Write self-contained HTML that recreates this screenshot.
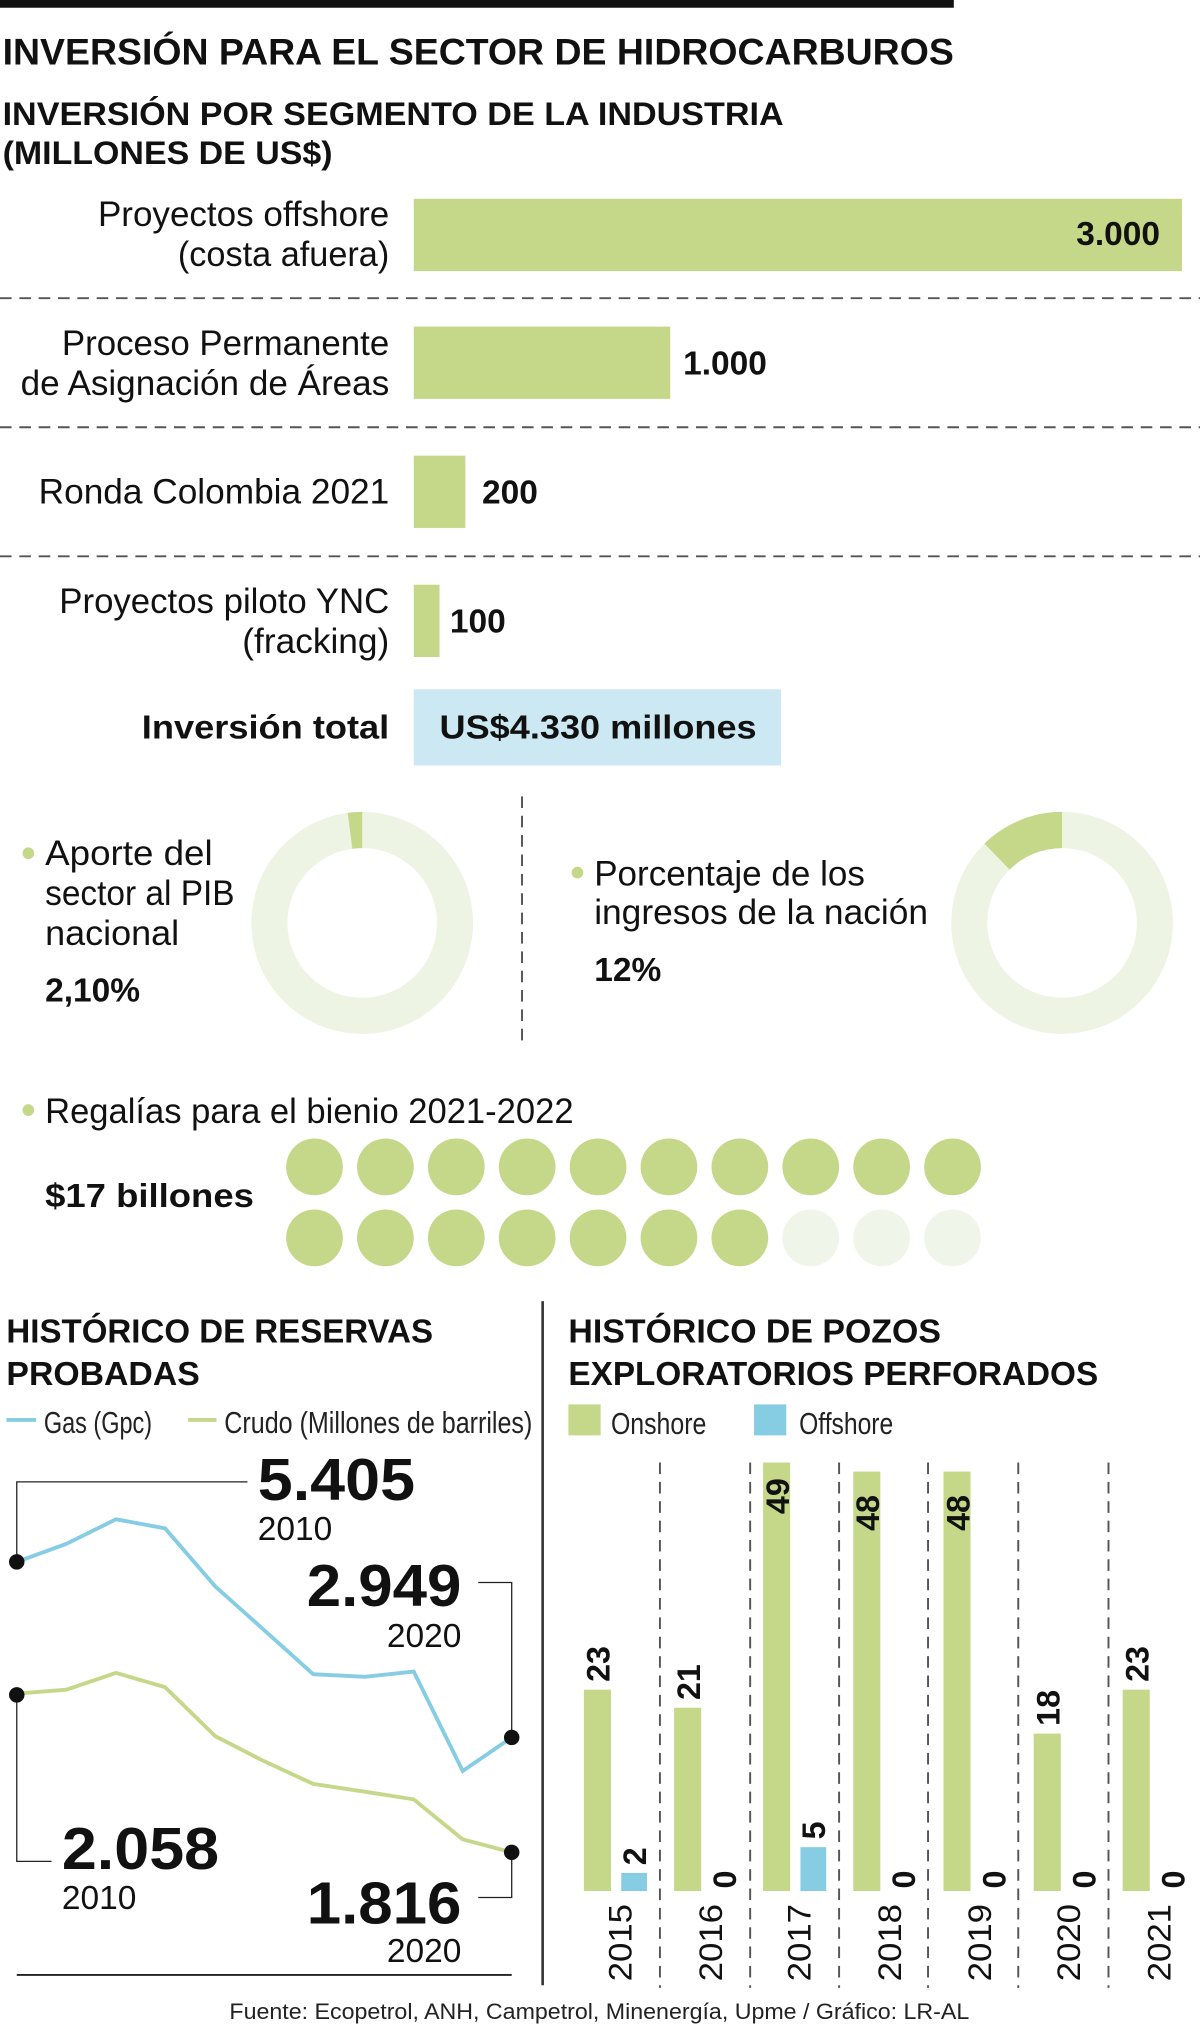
<!DOCTYPE html>
<html><head><meta charset="utf-8"><style>
html,body{margin:0;padding:0;background:#fff;}
svg{display:block;}
text{font-family:"Liberation Sans",sans-serif;fill:#111;}
.b{font-weight:bold;}
.l{fill:#222;}
</style></head><body>
<svg width="1200" height="2024" viewBox="0 0 931 1568" preserveAspectRatio="none" xmlns="http://www.w3.org/2000/svg">
<rect x="0" y="0" width="740" height="6" fill="#111"/>
<text class="b" x="2" y="50" font-size="29" textLength="738" lengthAdjust="spacingAndGlyphs">INVERSIÓN PARA EL SECTOR DE HIDROCARBUROS</text>
<text class="b" x="2" y="97" font-size="25" textLength="606" lengthAdjust="spacingAndGlyphs">INVERSIÓN POR SEGMENTO DE LA INDUSTRIA</text>
<text class="b" x="2" y="127" font-size="25" textLength="256" lengthAdjust="spacingAndGlyphs">(MILLONES DE US$)</text>

<g font-size="27" text-anchor="end" class="l">
<text x="302" y="175" textLength="226" lengthAdjust="spacingAndGlyphs">Proyectos offshore</text>
<text x="302" y="206" textLength="164" lengthAdjust="spacingAndGlyphs">(costa afuera)</text>
<text x="302" y="275" textLength="254" lengthAdjust="spacingAndGlyphs">Proceso Permanente</text>
<text x="302" y="306" textLength="286" lengthAdjust="spacingAndGlyphs">de Asignación de Áreas</text>
<text x="302" y="390" textLength="272" lengthAdjust="spacingAndGlyphs">Ronda Colombia 2021</text>
<text x="302" y="475" textLength="256" lengthAdjust="spacingAndGlyphs">Proyectos piloto YNC</text>
<text x="302" y="506" textLength="114" lengthAdjust="spacingAndGlyphs">(fracking)</text>
</g>
<rect x="321" y="154" width="596" height="56" fill="#c5d88a"/>
<rect x="321" y="253" width="199" height="56" fill="#c5d88a"/>
<rect x="321" y="353" width="40" height="56" fill="#c5d88a"/>
<rect x="321" y="453" width="20" height="56" fill="#c5d88a"/>
<g class="b" font-size="26">
<text x="900" y="190" text-anchor="end">3.000</text>
<text x="530" y="290">1.000</text>
<text x="374" y="390">200</text>
<text x="349" y="490">100</text>
</g>
<g stroke="#555" stroke-width="1.5" stroke-dasharray="9,6">
<line x1="0" y1="231" x2="931" y2="231"/>
<line x1="0" y1="331" x2="931" y2="331"/>
<line x1="0" y1="431" x2="931" y2="431"/>
</g>
<text class="b" x="302" y="572" font-size="26" text-anchor="end" textLength="192" lengthAdjust="spacingAndGlyphs">Inversión total</text>
<rect x="321" y="534" width="285" height="59" fill="#cce8f2"/>
<text class="b" x="341" y="572" font-size="26" textLength="246" lengthAdjust="spacingAndGlyphs">US$4.330 millones</text>

<!-- donuts -->
<circle cx="281" cy="715" r="72" fill="none" stroke="#eef4e4" stroke-width="28"/>
<path d="M281,629 A86,86 0 0,0 269.7,629.7 L273.4,657.5 A58,58 0 0,1 281,657 Z" fill="#c5d88a"/>
<circle cx="824" cy="715" r="72" fill="none" stroke="#eef4e4" stroke-width="28"/>
<path d="M824,629 A86,86 0 0,0 763.7,653.6 L783.3,673.7 A58,58 0 0,1 824,657 Z" fill="#c5d88a"/>
<line x1="405" y1="617" x2="405" y2="812" stroke="#555" stroke-width="1.5" stroke-dasharray="9,6"/>
<circle cx="22" cy="661" r="4.5" fill="#c5d88a"/>
<g font-size="27" class="l">
<text x="35" y="670" textLength="130" lengthAdjust="spacingAndGlyphs">Aporte del</text>
<text x="35" y="701" textLength="147" lengthAdjust="spacingAndGlyphs">sector al PIB</text>
<text x="35" y="732" textLength="104" lengthAdjust="spacingAndGlyphs">nacional</text>
<text x="461" y="686" textLength="210" lengthAdjust="spacingAndGlyphs">Porcentaje de los</text>
<text x="461" y="716" textLength="259" lengthAdjust="spacingAndGlyphs">ingresos de la nación</text>
<text x="35" y="870" textLength="410" lengthAdjust="spacingAndGlyphs">Regalías para el bienio 2021-2022</text>
</g>
<circle cx="448" cy="676" r="4.5" fill="#c5d88a"/>
<text class="b" x="35" y="776" font-size="26">2,10%</text>
<text class="b" x="461" y="760" font-size="26">12%</text>
<circle cx="22" cy="860" r="4.5" fill="#c5d88a"/>
<text class="b" x="35" y="935" font-size="26" textLength="162" lengthAdjust="spacingAndGlyphs">$17 billones</text>
<g fill="#c5d88a">
<circle cx="244" cy="904" r="22"/><circle cx="299" cy="904" r="22"/><circle cx="354" cy="904" r="22"/><circle cx="409" cy="904" r="22"/><circle cx="464" cy="904" r="22"/><circle cx="519" cy="904" r="22"/><circle cx="574" cy="904" r="22"/><circle cx="629" cy="904" r="22"/><circle cx="684" cy="904" r="22"/><circle cx="739" cy="904" r="22"/>
<circle cx="244" cy="959" r="22"/><circle cx="299" cy="959" r="22"/><circle cx="354" cy="959" r="22"/><circle cx="409" cy="959" r="22"/><circle cx="464" cy="959" r="22"/><circle cx="519" cy="959" r="22"/><circle cx="574" cy="959" r="22"/>
</g>
<g fill="#f0f5ea"><circle cx="629" cy="959" r="22"/><circle cx="684" cy="959" r="22"/><circle cx="739" cy="959" r="22"/></g>

<!-- bottom left -->
<line x1="421" y1="1008" x2="421" y2="1538" stroke="#333" stroke-width="2"/>
<text class="b" x="5" y="1040" font-size="26" textLength="331" lengthAdjust="spacingAndGlyphs">HISTÓRICO DE RESERVAS</text>
<text class="b" x="5" y="1073" font-size="26" textLength="150" lengthAdjust="spacingAndGlyphs">PROBADAS</text>
<line x1="5" y1="1100" x2="28" y2="1100" stroke="#86cde3" stroke-width="3"/>
<text x="34" y="1110" font-size="24" class="l" textLength="84" lengthAdjust="spacingAndGlyphs">Gas (Gpc)</text>
<line x1="146" y1="1100" x2="168" y2="1100" stroke="#c5d88a" stroke-width="3"/>
<text x="174" y="1110" font-size="24" class="l" textLength="239" lengthAdjust="spacingAndGlyphs">Crudo (Millones de barriles)</text>
<polyline fill="none" stroke="#86cde3" stroke-width="3" points="13,1210 51.5,1196 90,1177 128,1184 167,1229 204,1262 243,1297 283,1299 321,1295 359,1372 397,1346"/>
<polyline fill="none" stroke="#c5d88a" stroke-width="3" points="13,1312 51.5,1309 90,1296 128,1307 167,1345 204,1364 243,1382 283,1388 321,1394 359,1425 397,1435"/>
<g fill="none" stroke="#222" stroke-width="1">
<polyline points="13,1210 13,1148 192,1148"/>
<polyline points="371,1226 397,1226 397,1346"/>
<polyline points="13,1313 13,1442 40,1442"/>
<polyline points="397,1435 397,1470 371,1470"/>
</g>
<line x1="13" y1="1530" x2="397" y2="1530" stroke="#222" stroke-width="1.5"/>
<g fill="#111"><circle cx="13" cy="1210" r="6"/><circle cx="397" cy="1346" r="6"/><circle cx="13" cy="1313" r="6"/><circle cx="397" cy="1435" r="6"/></g>
<g class="b" font-size="46">
<text x="200" y="1162" textLength="122" lengthAdjust="spacingAndGlyphs">5.405</text>
<text x="358" y="1244" text-anchor="end" textLength="120" lengthAdjust="spacingAndGlyphs">2.949</text>
<text x="48" y="1448" textLength="122" lengthAdjust="spacingAndGlyphs">2.058</text>
<text x="358" y="1490" text-anchor="end" textLength="120" lengthAdjust="spacingAndGlyphs">1.816</text>
</g>
<g font-size="26" class="l">
<text x="200" y="1193">2010</text>
<text x="358" y="1276" text-anchor="end">2020</text>
<text x="48" y="1479">2010</text>
<text x="358" y="1520" text-anchor="end">2020</text>
</g>

<!-- bottom right -->
<text class="b" x="441" y="1040" font-size="26" textLength="289" lengthAdjust="spacingAndGlyphs">HISTÓRICO DE POZOS</text>
<text class="b" x="441" y="1073" font-size="26" textLength="411" lengthAdjust="spacingAndGlyphs">EXPLORATORIOS PERFORADOS</text>
<rect x="441" y="1088" width="25" height="24" fill="#c5d88a"/>
<text x="474" y="1111" font-size="24" class="l" textLength="74" lengthAdjust="spacingAndGlyphs">Onshore</text>
<rect x="585" y="1088" width="25" height="24" fill="#86cde3"/>
<text x="620" y="1111" font-size="24" class="l" textLength="73" lengthAdjust="spacingAndGlyphs">Offshore</text>
<g stroke="#555" stroke-width="1.5" stroke-dasharray="9,6">
<line x1="512" y1="1133" x2="512" y2="1540"/><line x1="582" y1="1133" x2="582" y2="1540"/><line x1="651" y1="1133" x2="651" y2="1540"/><line x1="720" y1="1133" x2="720" y2="1540"/><line x1="790" y1="1133" x2="790" y2="1540"/><line x1="860" y1="1133" x2="860" y2="1540"/>
</g>
<g fill="#c5d88a">
<rect x="453" y="1309" width="21" height="156"/>
<rect x="523" y="1323" width="21" height="142"/>
<rect x="592" y="1133" width="21" height="332"/>
<rect x="662" y="1140" width="21" height="325"/>
<rect x="732" y="1140" width="21" height="325"/>
<rect x="802" y="1343" width="21" height="122"/>
<rect x="871" y="1309" width="21" height="156"/>
</g>
<g fill="#86cde3">
<rect x="482" y="1451" width="20" height="14"/>
<rect x="621" y="1431" width="20" height="34"/>
</g>
<g class="b" font-size="25">
<text transform="translate(473,1303) rotate(-90)">23</text>
<text transform="translate(543,1317) rotate(-90)">21</text>
<text transform="translate(612,1173) rotate(-90)">49</text>
<text transform="translate(682,1186) rotate(-90)">48</text>
<text transform="translate(752,1186) rotate(-90)">48</text>
<text transform="translate(822,1337) rotate(-90)">18</text>
<text transform="translate(891,1303) rotate(-90)">23</text>
<text transform="translate(501,1445) rotate(-90)">2</text>
<text transform="translate(640,1425) rotate(-90)">5</text>
<text transform="translate(571,1463) rotate(-90)">0</text>
<text transform="translate(710,1463) rotate(-90)">0</text>
<text transform="translate(780,1463) rotate(-90)">0</text>
<text transform="translate(850,1463) rotate(-90)">0</text>
<text transform="translate(919,1463) rotate(-90)">0</text>
</g>
<g font-size="25" class="l">
<text transform="translate(490,1535) rotate(-90)" textLength="60" lengthAdjust="spacingAndGlyphs">2015</text>
<text transform="translate(560,1535) rotate(-90)" textLength="60" lengthAdjust="spacingAndGlyphs">2016</text>
<text transform="translate(629,1535) rotate(-90)" textLength="60" lengthAdjust="spacingAndGlyphs">2017</text>
<text transform="translate(699,1535) rotate(-90)" textLength="60" lengthAdjust="spacingAndGlyphs">2018</text>
<text transform="translate(769,1535) rotate(-90)" textLength="60" lengthAdjust="spacingAndGlyphs">2019</text>
<text transform="translate(838,1535) rotate(-90)" textLength="60" lengthAdjust="spacingAndGlyphs">2020</text>
<text transform="translate(908,1535) rotate(-90)" textLength="60" lengthAdjust="spacingAndGlyphs">2021</text>
</g>
<text x="178" y="1564" font-size="17" class="l" textLength="574" lengthAdjust="spacingAndGlyphs">Fuente: Ecopetrol, ANH, Campetrol, Minenergía, Upme / Gráfico: LR-AL</text>
</svg>
</body></html>
